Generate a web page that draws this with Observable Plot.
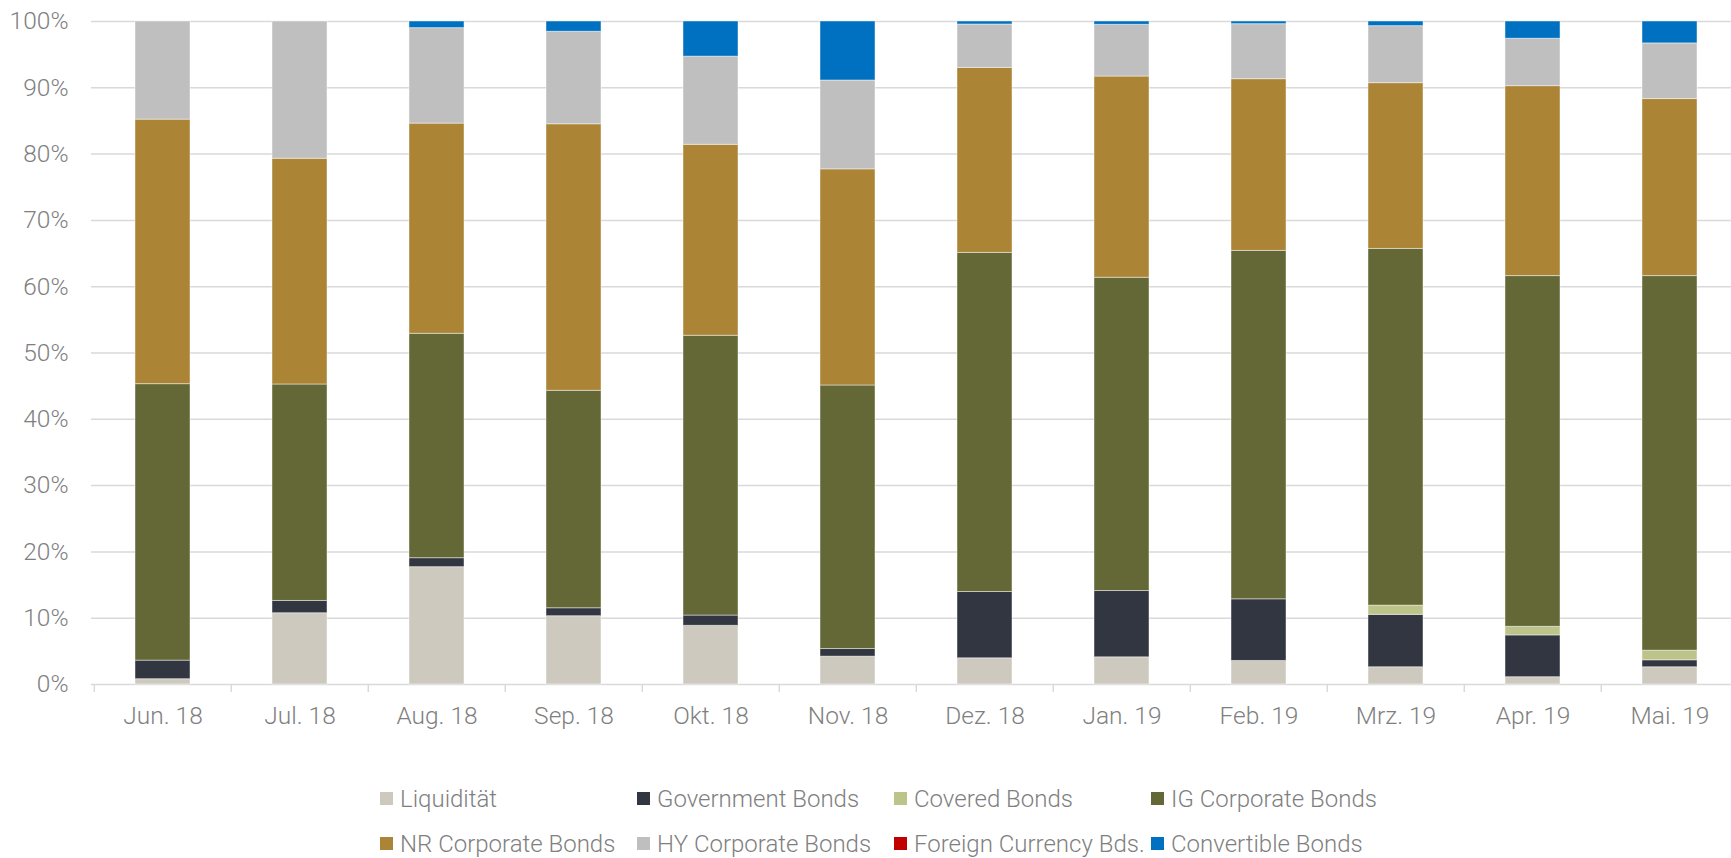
<!DOCTYPE html>
<html>
<head>
<meta charset="utf-8">
<script src="https://cdn.jsdelivr.net/npm/d3@7"></script>
<script src="https://cdn.jsdelivr.net/npm/@observablehq/plot@0.6"></script>
<style>
  html, body { margin: 0; padding: 0; background: #fff; overflow: hidden; }
  #chart { width: 1745px; }
  .legend { display: grid; grid-template-columns: repeat(4, 257px); grid-auto-rows: 45px;
    padding-left: 380px; padding-top: 36px; font-family: Roboto, sans-serif; font-weight: 300;
    font-size: 24px; color: #7f7f7f; }
  .legend .item { display: flex; align-items: center; white-space: nowrap; }
  .legend .sw { width: 13px; height: 13px; margin-right: 7px; flex: none; }
</style>
</head>
<body>
<div id="chart"></div>
<script>
const months = ["Jun. 18","Jul. 18","Aug. 18","Sep. 18","Okt. 18","Nov. 18","Dez. 18","Jan. 19","Feb. 19","Mrz. 19","Apr. 19","Mai. 19"];
const seriesNames = ["Liquidität","Government Bonds","Covered Bonds","IG Corporate Bonds","NR Corporate Bonds","HY Corporate Bonds","Foreign Currency Bds.","Convertible Bonds"];
const seriesColors = ["#CDC9BE","#323641","#BDC48A","#636836","#AB8435","#BFBFBF","#C00000","#0070C0"];
const liquiditaet        = [0.8, 10.75, 17.7, 10.3, 8.85, 4.2, 3.95, 4.1, 3.55, 2.6, 1.1, 2.6];
const governmentBonds    = [2.8, 1.85, 1.35, 1.2, 1.55, 1.15, 10.0, 10.0, 9.3, 7.9, 6.3, 1.05];
const coveredBonds       = [0, 0, 0, 0, 0, 0, 0, 0, 0, 1.4, 1.3, 1.45];
const igCorporateBonds   = [41.7, 32.65, 33.85, 32.8, 42.2, 39.75, 51.15, 47.25, 52.55, 53.8, 52.9, 56.5];
const nrCorporateBonds   = [39.9, 34.05, 31.7, 40.2, 28.8, 32.6, 27.9, 30.35, 25.9, 25.0, 28.65, 26.7];
const hyCorporateBonds   = [14.8, 20.7, 14.4, 13.95, 13.3, 13.4, 6.55, 7.8, 8.3, 8.6, 7.15, 8.4];
const foreignCurrencyBds = [0, 0, 0, 0, 0, 0, 0, 0, 0, 0, 0, 0];
const convertibleBonds   = [0, 0, 1.0, 1.55, 5.3, 8.9, 0.45, 0.5, 0.4, 0.7, 2.6, 3.3];
const yTicks = [0, 10, 20, 30, 40, 50, 60, 70, 80, 90, 100];

const seriesValues = [liquiditaet, governmentBonds, coveredBonds, igCorporateBonds,
  nrCorporateBonds, hyCorporateBonds, foreignCurrencyBds, convertibleBonds];

const rows = [];
seriesNames.forEach((s, si) => {
  months.forEach((m, mi) => {
    rows.push({month: m, series: s, value: seriesValues[si][mi]});
  });
});

const W = 1745, ML = 91, MR = 5;
const step = (W - ML - MR) / months.length;

const chart = Plot.plot({
  width: W,
  height: 740,
  marginLeft: ML,
  marginRight: MR,
  marginTop: 21,
  marginBottom: 56,
  style: {fontFamily: "Roboto, sans-serif", fontWeight: 300, fontSize: "24.5px", color: "#7f7f7f", background: "#fff", overflow: "visible"},
  x: {domain: months, paddingInner: 0.6, paddingOuter: 0.3, label: null},
  y: {domain: [0, 100], label: null},
  color: {domain: seriesNames, range: seriesColors},
  marks: [
    Plot.ruleY(yTicks, {stroke: "#d9d9d9", strokeWidth: 1.5}),
    Plot.barY(rows.filter(d => d.value > 0), Plot.stackY({
      x: "month", y: "value", z: "series", fill: "series", order: seriesNames,
      stroke: "#ffffff", strokeOpacity: 0.45, strokeWidth: 1
    })),
    Plot.ruleX(months, {x: d => d, y1: 0, y2: 0, dx: -step / 2, insetBottom: -8, stroke: "#d9d9d9", strokeWidth: 1.5}),
    Plot.axisX({tickSize: 0, tickPadding: 22, fontSize: 24.5}),
    Plot.axisY({ticks: yTicks, tickSize: 0, tickPadding: 23, tickFormat: d => d + "%", fontSize: 24.5})
  ]
});
document.getElementById("chart").appendChild(chart);

const legend = document.createElement("div");
legend.className = "legend";
seriesNames.forEach((s, i) => {
  const item = document.createElement("div");
  item.className = "item";
  const sw = document.createElement("span");
  sw.className = "sw";
  sw.style.background = seriesColors[i];
  const t = document.createElement("span");
  t.textContent = s;
  item.appendChild(sw);
  item.appendChild(t);
  legend.appendChild(item);
});
document.body.appendChild(legend);
</script>
</body>
</html>
